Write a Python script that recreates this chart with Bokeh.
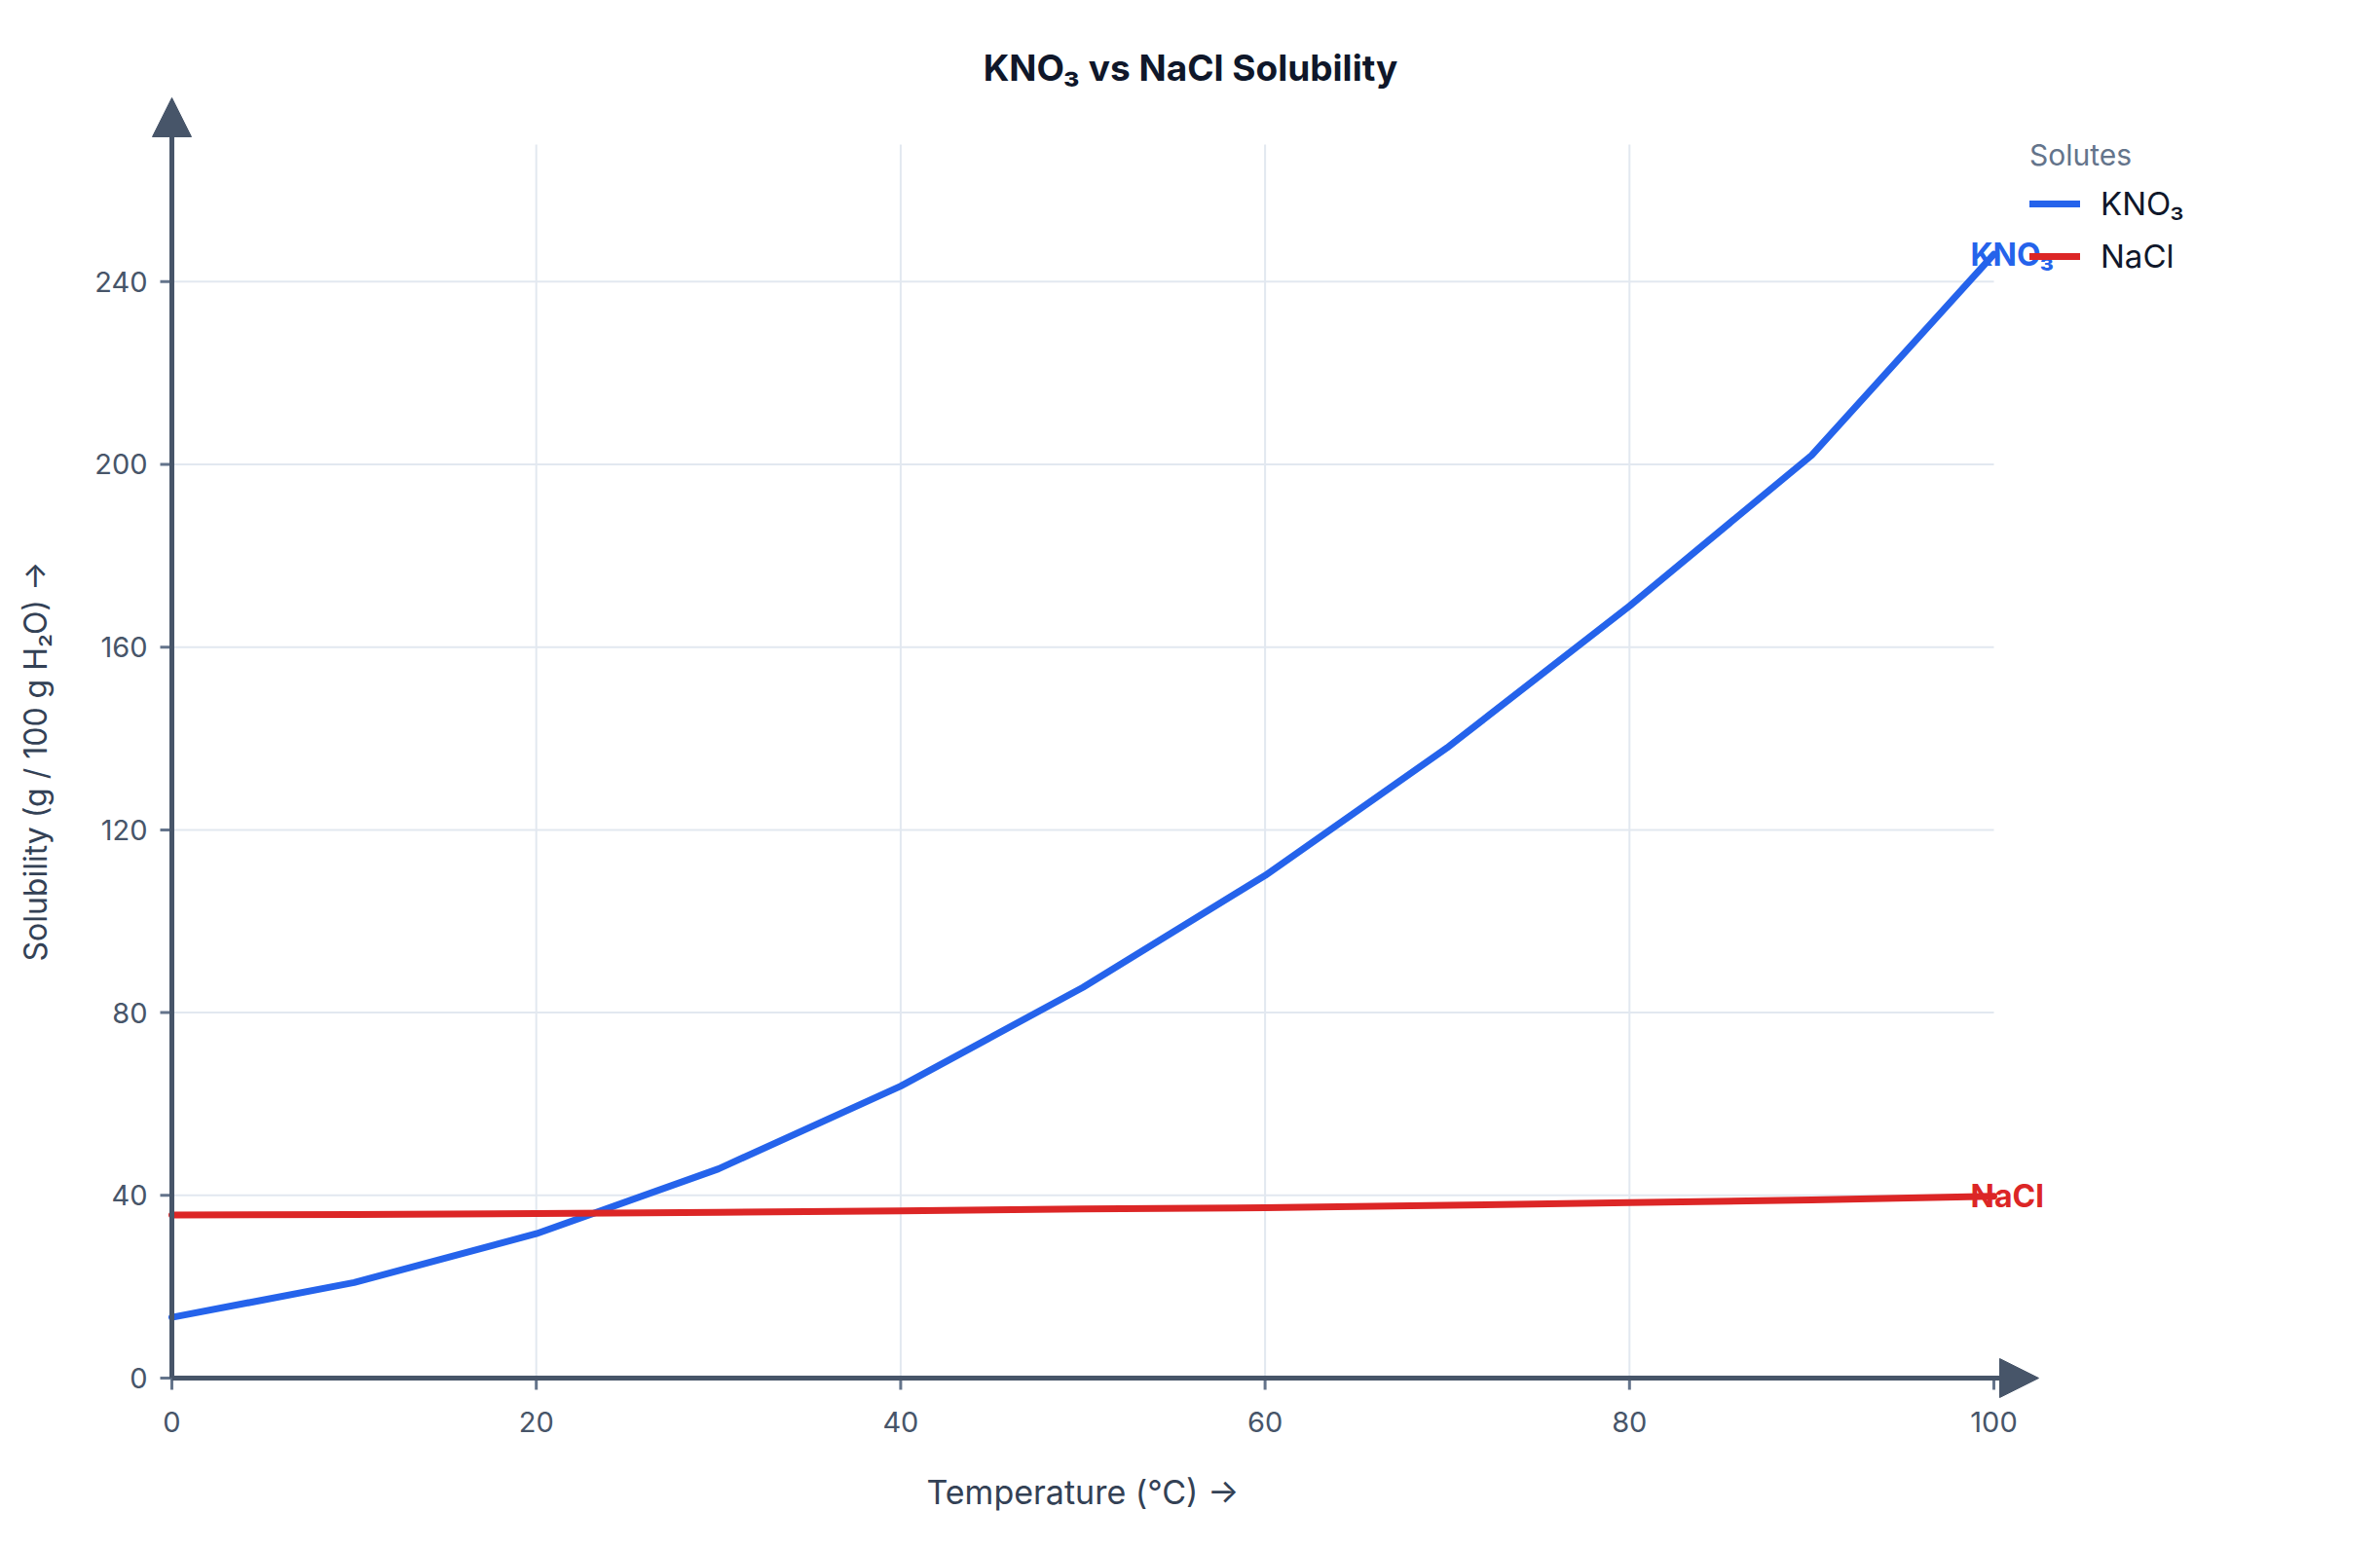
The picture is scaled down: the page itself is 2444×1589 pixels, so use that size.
import math
from bokeh.plotting import figure
from bokeh.models import (Range1d, Arrow, NormalHead, Legend, LegendItem,
                          ColumnDataSource, LabelSet, Label)
from bokeh.core.properties import value
from bokeh.embed import file_html
from bokeh.resources import INLINE

# ---- data ----
temperature = [0, 10, 20, 30, 40, 50, 60, 70, 80, 90, 100]
kno3 = [13.3, 20.9, 31.6, 45.8, 63.9, 85.5, 110.0, 138.0, 169.0, 202.0, 246.0]
nacl = [35.7, 35.8, 36.0, 36.3, 36.6, 37.0, 37.3, 37.8, 38.4, 39.0, 39.8]
x_ticks = [0, 20, 40, 60, 80, 100]
y_ticks = [0, 40, 80, 120, 160, 200, 240]
series_names = ["KNO\u2083", "NaCl"]
series_colors = ["#2563eb", "#dc2626"]
title_text = "KNO\u2083 vs NaCl Solubility"
x_label = "Temperature (\u00b0C) \u2192"
y_label = "Solubility (g / 100 g H\u2082O) \u2192"

X_MIN, X_MAX = 0, 100
Y_MIN, Y_MAX = 0, 270

FONT = "Inter"
AXIS_COLOR = "#475569"
TICK_COLOR = "#64748b"

W, H = 2444, 1589
# pixel geometry of the axes box inside the page
PL, PR, PT, PB = 176, 2047, 148, 1415

x_per_px = (X_MAX - X_MIN) / (PR - PL)
y_per_px = (Y_MAX - Y_MIN) / (PB - PT)
# the frame covers the whole page; ranges are extended accordingly
x_start = X_MIN - PL * x_per_px
x_end = X_MAX + (W - PR) * x_per_px
y_start = Y_MIN - (H - PB) * y_per_px
y_end = Y_MAX + PT * y_per_px

p = figure(width=W, height=H, x_range=Range1d(x_start, x_end), y_range=Range1d(y_start, y_end),
           output_backend="svg", toolbar_location=None, title=None,
           x_axis_location=None, y_axis_location=None, min_border=0)
p.outline_line_color = None
p.background_fill_color = "white"
p.border_fill_color = "white"
p.xgrid.visible = False
p.ygrid.visible = False

# grid lines limited to the axes box
gx = [t for t in x_ticks if X_MIN < t < X_MAX]
gy = [t for t in y_ticks if Y_MIN < t < Y_MAX]
p.segment(x0=gx, y0=[Y_MIN] * len(gx), x1=gx, y1=[Y_MAX] * len(gx),
          line_color="#e2e8f0", line_width=2)
p.segment(x0=[X_MIN] * len(gy), y0=gy, x1=[X_MAX] * len(gy), y1=gy,
          line_color="#e2e8f0", line_width=2)

# tick marks (12 px outward)
TICK = 12
p.segment(x0=x_ticks, y0=[Y_MIN] * len(x_ticks), x1=x_ticks,
          y1=[Y_MIN - TICK * y_per_px] * len(x_ticks), line_color=TICK_COLOR, line_width=3)
p.segment(x0=[X_MIN] * len(y_ticks), y0=y_ticks, x1=[X_MIN - TICK * x_per_px] * len(y_ticks),
          y1=y_ticks, line_color=TICK_COLOR, line_width=3)

# axis lines with arrow heads
x_tip = X_MAX + 46 * x_per_px
y_tip = Y_MAX + 48 * y_per_px
p.add_layout(Arrow(x_start=X_MIN, y_start=Y_MIN, x_end=x_tip, y_end=Y_MIN,
                   line_color=AXIS_COLOR, line_width=5,
                   end=NormalHead(size=40, fill_color=AXIS_COLOR, line_color=AXIS_COLOR, line_width=1)))
p.add_layout(Arrow(x_start=X_MIN, y_start=Y_MIN, x_end=X_MIN, y_end=y_tip,
                   line_color=AXIS_COLOR, line_width=5,
                   end=NormalHead(size=40, fill_color=AXIS_COLOR, line_color=AXIS_COLOR, line_width=1)))

# tick labels
p.text(x=x_ticks, y=[Y_MIN] * len(x_ticks), text=[str(t) for t in x_ticks],
       y_offset=45, text_align="center", text_baseline="middle",
       text_font=value(FONT), text_font_size="29px", text_color=AXIS_COLOR)
p.text(x=[X_MIN] * len(y_ticks), y=y_ticks, text=[str(t) for t in y_ticks],
       x_offset=-25, text_align="right", text_baseline="middle",
       text_font=value(FONT), text_font_size="29px", text_color=AXIS_COLOR)

# axis titles
p.add_layout(Label(x=(X_MIN + X_MAX) / 2, y=Y_MIN, y_offset=-117, text=x_label,
                   text_align="center", text_baseline="middle", text_font=FONT,
                   text_font_size="34px", text_color="#334155"))
p.add_layout(Label(x=X_MIN, y=(Y_MIN + Y_MAX) / 2, x_offset=-140, text=y_label, angle=math.pi / 2,
                   text_align="center", text_baseline="middle", text_font=FONT,
                   text_font_size="32px", text_color="#334155"))

# lines
r1 = p.line(temperature, kno3, line_color=series_colors[0], line_width=7,
            line_cap="round", line_join="round")
r2 = p.line(temperature, nacl, line_color=series_colors[1], line_width=7,
            line_cap="round", line_join="round")

# end labels
end_src = ColumnDataSource(dict(x=[temperature[-1], temperature[-1]],
                                y=[kno3[-1], nacl[-1]],
                                text=series_names, color=series_colors))
p.add_layout(LabelSet(x="x", y="y", text="text", source=end_src, x_offset=-24,
                      text_color="color", text_align="left", text_baseline="middle",
                      text_font=value(FONT), text_font_size="32px", text_font_style="bold"))

# legend
legend = Legend(items=[LegendItem(label=series_names[0], renderers=[r1]),
                       LegendItem(label=series_names[1], renderers=[r2])],
                location=(2084, H - 290), title="Solutes")
legend.title_text_font = FONT
legend.title_text_font_size = "30px"
legend.title_text_font_style = "normal"
legend.title_text_color = "#64748b"
legend.title_standoff = 5
legend.label_text_font = FONT
legend.label_text_font_size = "33px"
legend.label_text_font_style = "normal"
legend.label_text_color = "#0f172a"
legend.glyph_width = 52
legend.glyph_height = 54
legend.label_height = 54
legend.label_standoff = 21
legend.spacing = 0
legend.padding = 0
legend.margin = 0
legend.border_line_alpha = 0
legend.background_fill_alpha = 0
p.add_layout(legend)

# title (centered on the page)
p.add_layout(Label(x=W / 2, y=H - 69, x_units="screen", y_units="screen",
                   text=title_text, text_align="center", text_baseline="middle",
                   text_font=FONT, text_font_size="37px", text_font_style="bold",
                   text_color="#0f172a"))

open("out.html", "w").write(file_html(p, INLINE))
